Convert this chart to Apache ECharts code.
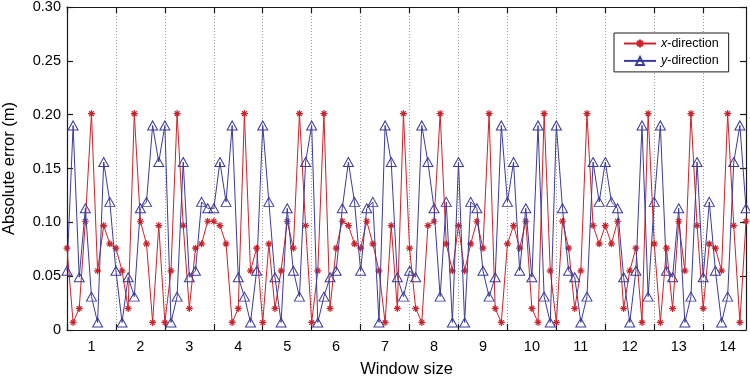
<!DOCTYPE html>
<html>
<head>
<meta charset="utf-8">
<script src="https://cdn.jsdelivr.net/npm/echarts/dist/echarts.min.js"></script>
<style>
html,body{margin:0;padding:0;background:#fff;}
#chart{width:750px;height:380px;}
</style>
</head>
<body>
<div id="chart"></div>
<script>
// ---- data ----
const windowLabels = ['1','2','3','4','5','6','7','8','9','10','11','12','13','14'];
const pointsPerWindow = 8;
const seriesNames = ['x-direction', 'y-direction'];
const yTickValues = [0, 0.05, 0.10, 0.15, 0.20, 0.25, 0.30];

const xDirection = [
  0.076, 0.007, 0.020, 0.101, 0.201, 0.055, 0.097, 0.080,
  0.076, 0.055, 0.020, 0.201, 0.101, 0.080, 0.007, 0.097,
  0.007, 0.055, 0.201, 0.097, 0.020, 0.076, 0.080, 0.101,
  0.101, 0.097, 0.080, 0.007, 0.020, 0.201, 0.055, 0.076,
  0.007, 0.080, 0.020, 0.055, 0.101, 0.076, 0.201, 0.097,
  0.007, 0.055, 0.201, 0.020, 0.076, 0.101, 0.097, 0.080,
  0.076, 0.101, 0.080, 0.055, 0.007, 0.097, 0.020, 0.201,
  0.076, 0.020, 0.007, 0.097, 0.101, 0.201, 0.080, 0.055,
  0.097, 0.055, 0.080, 0.101, 0.076, 0.201, 0.020, 0.007,
  0.080, 0.097, 0.076, 0.101, 0.020, 0.007, 0.201, 0.055,
  0.007, 0.101, 0.076, 0.020, 0.055, 0.201, 0.097, 0.080,
  0.097, 0.080, 0.101, 0.020, 0.055, 0.076, 0.007, 0.201,
  0.080, 0.007, 0.076, 0.020, 0.101, 0.055, 0.201, 0.097,
  0.020, 0.080, 0.076, 0.055, 0.201, 0.097, 0.007, 0.101
];

const yDirection = [
  0.055, 0.190, 0.049, 0.113, 0.031, 0.007, 0.156, 0.119,
  0.055, 0.007, 0.049, 0.031, 0.113, 0.119, 0.190, 0.156,
  0.190, 0.007, 0.031, 0.156, 0.049, 0.055, 0.119, 0.113,
  0.113, 0.156, 0.119, 0.190, 0.049, 0.031, 0.007, 0.055,
  0.190, 0.119, 0.049, 0.007, 0.113, 0.055, 0.031, 0.156,
  0.190, 0.007, 0.031, 0.049, 0.055, 0.113, 0.156, 0.119,
  0.055, 0.113, 0.119, 0.007, 0.190, 0.156, 0.049, 0.031,
  0.055, 0.049, 0.190, 0.156, 0.113, 0.031, 0.119, 0.007,
  0.156, 0.007, 0.119, 0.113, 0.055, 0.031, 0.049, 0.190,
  0.119, 0.156, 0.055, 0.113, 0.049, 0.190, 0.031, 0.007,
  0.190, 0.113, 0.055, 0.049, 0.007, 0.031, 0.156, 0.119,
  0.156, 0.119, 0.113, 0.049, 0.007, 0.055, 0.190, 0.031,
  0.119, 0.190, 0.055, 0.049, 0.113, 0.007, 0.031, 0.156,
  0.049, 0.119, 0.055, 0.007, 0.031, 0.156, 0.190, 0.113
];

// ---- styling ----
const FONT = '"Liberation Sans", Arial, Helvetica, sans-serif';
const RED = '#cc2229';
const BLUE = '#3b3b9b';
const AXIS = '#1a1a1a';
const asterisk = 'path://M5 0L5 10M0 5L10 5M1.6 1.6L8.4 8.4M1.6 8.4L8.4 1.6';

const pointIndex = xDirection.map((_, i) => String(i));
const isDivider = (i) => i % pointsPerWindow === 0;
const isCenter = (i) => i % pointsPerWindow === pointsPerWindow / 2;

const chart = echarts.init(document.getElementById('chart'), null, {renderer: 'canvas'});

const baseX = {
  type: 'category',
  data: pointIndex,
  boundaryGap: false,
  axisLine: {show: true, onZero: false, lineStyle: {color: AXIS, width: 1.2}},
  axisTick: {show: true, inside: true, length: 6, interval: (i) => isDivider(i), lineStyle: {color: AXIS, width: 1.2}},
};
const baseY = {
  type: 'value',
  min: yTickValues[0],
  max: yTickValues[yTickValues.length - 1],
  interval: yTickValues[1] - yTickValues[0],
  axisLine: {show: true, onZero: false, lineStyle: {color: AXIS, width: 1.2}},
  axisTick: {show: true, inside: true, length: 6, lineStyle: {color: AXIS, width: 1.2}},
  splitLine: {show: false}
};

chart.setOption({
  animation: false,
  backgroundColor: '#fff',
  textStyle: {fontFamily: FONT},
  grid: {left: 67, right: 4, top: 7, bottom: 50, containLabel: false, outerBoundsMode: 'none'},
  legend: {
    data: seriesNames,
    orient: 'vertical',
    left: 614,
    top: 33,
    padding: [3.5, 10, 4, 9],
    itemWidth: 32,
    itemHeight: 10,
    itemGap: 3.4,
    borderColor: AXIS,
    borderWidth: 1,
    borderRadius: 0,
    backgroundColor: '#fff',
    selectedMode: false,
    formatter: (n) => '{it|' + n.charAt(0) + '}{rg|' + n.slice(1) + '}',
    textStyle: {
      fontFamily: FONT, fontSize: 12.5, color: '#000', lineHeight: 14,
      rich: {
        it: {fontFamily: FONT, fontSize: 12.5, fontStyle: 'italic', color: '#000', lineHeight: 14},
        rg: {fontFamily: FONT, fontSize: 12.5, color: '#000', lineHeight: 14}
      }
    }
  },
  xAxis: [
    Object.assign({}, baseX, {
      position: 'bottom',
      axisLabel: {
        interval: (i) => isCenter(i),
        formatter: (v) => windowLabels[Math.floor(Number(v) / pointsPerWindow)],
        margin: 9, fontSize: 14.5, color: '#000', fontFamily: FONT
      },
      splitLine: {
        show: true,
        interval: (i) => isDivider(i) && i > 0,
        lineStyle: {color: '#9c9c9c', width: 1, type: [1, 2]}
      },
      name: 'Window size',
      nameLocation: 'middle',
      nameGap: 31,
      nameTextStyle: {fontSize: 16.5, color: '#000', fontFamily: FONT}
    }),
    Object.assign({}, baseX, {
      position: 'top',
      axisLabel: {show: false},
      splitLine: {show: false}
    })
  ],
  yAxis: [
    Object.assign({}, baseY, {
      position: 'left',
      axisLabel: {
        formatter: (v) => v === 0 ? '0' : v.toFixed(2),
        margin: 6, fontSize: 14.5, color: '#000', fontFamily: FONT
      },
      name: 'Absolute error (m)',
      nameLocation: 'middle',
      nameRotate: 90,
      nameGap: 49,
      nameTextStyle: {fontSize: 16.5, color: '#000', fontFamily: FONT}
    }),
    Object.assign({}, baseY, {
      position: 'right',
      axisLabel: {show: false}
    })
  ],
  series: [
    {
      name: seriesNames[0],
      type: 'line',
      xAxisIndex: 0, yAxisIndex: 0,
      data: xDirection,
      symbol: asterisk,
      symbolSize: 7,
      showAllSymbol: true,
      lineStyle: {color: RED, width: 1},
      itemStyle: {color: RED, borderColor: RED, borderWidth: 1.2},
      emphasis: {disabled: true},
      z: 2
    },
    {
      name: seriesNames[1],
      type: 'line',
      xAxisIndex: 0, yAxisIndex: 0,
      data: yDirection,
      symbol: 'triangle',
      symbolSize: [10, 9],
      showAllSymbol: true,
      lineStyle: {color: BLUE, width: 1},
      itemStyle: {color: 'rgba(255,255,255,0)', borderColor: BLUE, borderWidth: 1},
      emphasis: {disabled: true},
      z: 3
    }
  ]
});
</script>
</body>
</html>
